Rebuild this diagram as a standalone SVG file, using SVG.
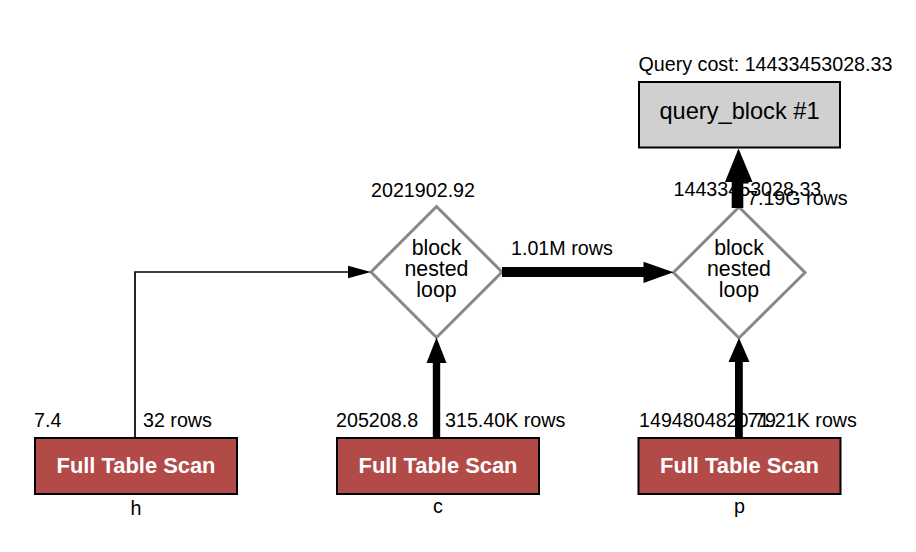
<svg xmlns="http://www.w3.org/2000/svg" width="916" height="552" viewBox="0 0 916 552">
  <style>
    text { font-family: "Liberation Sans", Arial, Helvetica, sans-serif; fill: #000; }
    .lbl { font-size: 19.7px; }
    .scan rect { fill: #b24a47; stroke: #000; stroke-width: 2; }
    .scan .title { font-size: 21.9px; font-weight: bold; fill: #fff; text-anchor: middle; }
    .scan .name { font-size: 19.7px; text-anchor: middle; }
    .join polygon { fill: #fff; stroke: #888; stroke-width: 3; }
    .join .title { font-size: 21.3px; text-anchor: middle; }
    .edge { fill: #000; stroke: none; }
    .thin { fill: none; stroke: #000; stroke-width: 1.7; }
  </style>
  <rect width="916" height="552" fill="#fff"/>

  <!-- query block -->
  <g id="query_block">
    <text class="lbl" x="638.5" y="71">Query cost: 14433453028.33</text>
    <rect x="639" y="82" width="201" height="65.5" fill="#d0d0d0" stroke="#000" stroke-width="2"/>
    <text x="739.5" y="119" font-size="23.6px" text-anchor="middle">query_block #1</text>
  </g>

  <!-- nested loop joins -->
  <g id="join1" class="join">
    <text class="lbl" x="371" y="196.5">2021902.92</text>
    <polygon points="436.5,206.5 502,272 436.5,337.5 371,272"/>
    <text class="title" x="436.5" y="255">block</text>
    <text class="title" x="436.5" y="276">nested</text>
    <text class="title" x="436.5" y="297">loop</text>
  </g>
  <g id="join2" class="join">
    <text class="lbl" x="673.5" y="196">14433453028.33</text>
    <polygon points="739,207 805,272.5 739,338 673.5,272.5"/>
    <text class="title" x="739" y="255">block</text>
    <text class="title" x="739" y="276">nested</text>
    <text class="title" x="739" y="297">loop</text>
  </g>

  <!-- table scans -->
  <g id="scan_h" class="scan">
    <text class="lbl" x="34" y="427">7.4</text>
    <rect x="35" y="438" width="202" height="56"/>
    <text class="title" x="136" y="473">Full Table Scan</text>
    <text class="name" x="136" y="515">h</text>
  </g>
  <g id="scan_c" class="scan">
    <text class="lbl" x="336" y="427">205208.8</text>
    <rect x="337" y="438" width="202" height="56"/>
    <text class="title" x="438" y="473">Full Table Scan</text>
    <text class="name" x="438" y="513">c</text>
  </g>
  <g id="scan_p" class="scan">
    <text class="lbl" x="639" y="427">1494804820.79</text>
    <rect x="638.5" y="438" width="202" height="56"/>
    <text class="title" x="739.5" y="473">Full Table Scan</text>
    <text class="name" x="739.5" y="513">p</text>
  </g>

  <!-- connectors -->
  <g id="edges">
    <!-- h -> join1 -->
    <polyline class="thin" points="135,437 135,272 349,272"/>
    <polygon class="edge" points="348,265.7 371,272 348,278.3"/>
    <text class="lbl" x="143" y="427">32 rows</text>

    <!-- c -> join1 -->
    <rect class="edge" x="432.8" y="362" width="7.4" height="76"/>
    <polygon class="edge" points="426.5,363 436.5,337.5 446.5,363"/>
    <text class="lbl" x="445" y="427">315.40K rows</text>

    <!-- join1 -> join2 -->
    <rect class="edge" x="502" y="267" width="143" height="10"/>
    <polygon class="edge" points="643.5,261.7 673.5,272.3 643.5,283"/>
    <text class="lbl" x="511" y="255">1.01M rows</text>

    <!-- p -> join2 -->
    <rect class="edge" x="735" y="361" width="7.8" height="77"/>
    <polygon class="edge" points="728.5,362 739,338 749.5,362"/>
    <text class="lbl" x="747.5" y="427">71.21K rows</text>

    <!-- join2 -> query block -->
    <rect class="edge" x="731.7" y="180" width="11.6" height="28"/>
    <polygon class="edge" points="725,182 738.5,148.5 752.5,182"/>
    <text class="lbl" x="747" y="205">7.19G rows</text>
  </g>
</svg>
